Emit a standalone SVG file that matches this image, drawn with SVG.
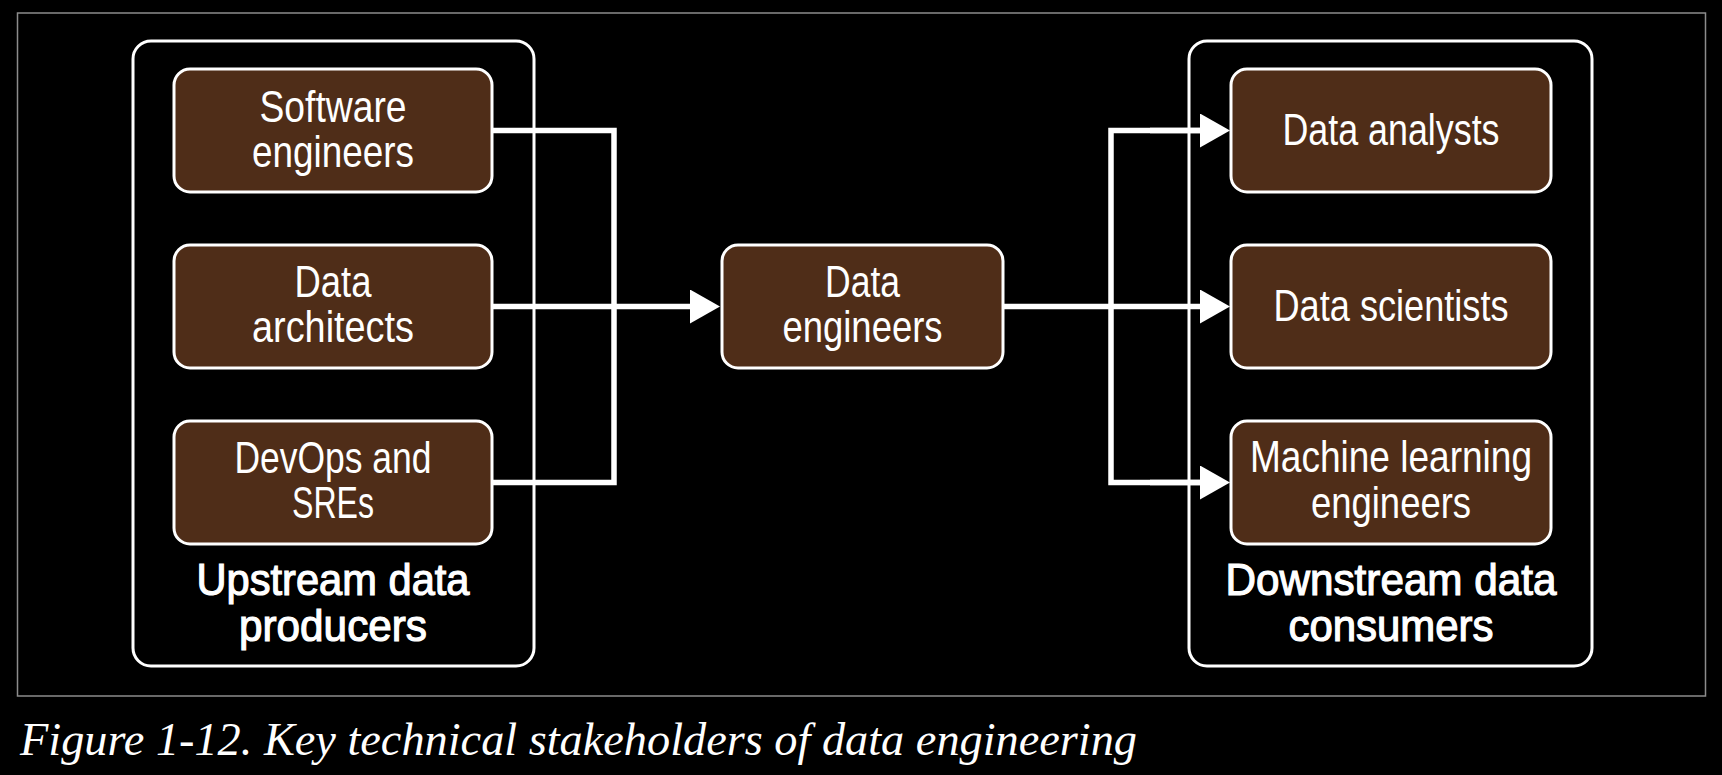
<svg xmlns="http://www.w3.org/2000/svg" width="1722" height="775" viewBox="0 0 1722 775">
  <style>
    .box { fill: #4f2d18; stroke: #ffffff; stroke-width: 3; }
    .group { fill: none; stroke: #ffffff; stroke-width: 3; }
    .lbl { font-family: "Liberation Sans Narrow", "Liberation Sans", "DejaVu Sans Condensed", sans-serif; font-size: 44px; fill: #ffffff; text-anchor: middle; }
    .ttl { font-family: "Liberation Sans Narrow", "Liberation Sans", "DejaVu Sans Condensed", sans-serif; font-size: 45px; fill: #ffffff; stroke: #ffffff; stroke-width: 1.2; text-anchor: middle; }
    .conn { fill: none; stroke: #ffffff; stroke-width: 5.5; stroke-linejoin: miter; }
    .cap { font-family: "Liberation Serif", "DejaVu Serif", serif; font-style: italic; font-size: 46px; fill: #ffffff; }
  </style>
  <defs>
    <marker id="arrow" viewBox="0 0 30 34" refX="0" refY="17" markerWidth="30" markerHeight="34" markerUnits="userSpaceOnUse" orient="auto">
      <path d="M0,0 L30,17 L0,34 Z" fill="#ffffff"/>
    </marker>
  </defs>
  <rect x="0" y="0" width="1722" height="775" fill="#000000"/>
  <rect x="17.5" y="13" width="1688" height="683" fill="none" stroke="#8c8c8c" stroke-width="1.5"/>

  <g id="upstream-group">
    <rect class="group" x="133" y="41" width="401" height="625" rx="18"/>
    <text class="ttl" x="333" y="595" textLength="273" lengthAdjust="spacingAndGlyphs">Upstream data</text>
    <text class="ttl" x="333" y="641" textLength="188" lengthAdjust="spacingAndGlyphs">producers</text>
  </g>
  <g id="downstream-group">
    <rect class="group" x="1189" y="41" width="403" height="625" rx="18"/>
    <text class="ttl" x="1391" y="595" textLength="331" lengthAdjust="spacingAndGlyphs">Downstream data</text>
    <text class="ttl" x="1391" y="641" textLength="205" lengthAdjust="spacingAndGlyphs">consumers</text>
  </g>

  <g id="connectors">
    <path class="conn" d="M493,130.5 H614 V482.5 H493"/>
    <path class="conn" d="M493,306.5 H690" marker-end="url(#arrow)"/>
    <path class="conn" d="M1003,306.5 H1200" marker-end="url(#arrow)"/>
    <path class="conn" d="M1200,130.5 H1111 V482.5 H1200"/>
    <path class="conn" d="M1150,130.5 H1200" marker-end="url(#arrow)"/>
    <path class="conn" d="M1150,482.5 H1200" marker-end="url(#arrow)"/>
  </g>

  <g id="software-engineers">
    <rect class="box" x="174" y="69" width="318" height="123" rx="16"/>
    <text class="lbl" x="333" y="122" textLength="147" lengthAdjust="spacingAndGlyphs">Software</text>
    <text class="lbl" x="333" y="167" textLength="162" lengthAdjust="spacingAndGlyphs">engineers</text>
  </g>
  <g id="data-architects">
    <rect class="box" x="174" y="245" width="318" height="123" rx="16"/>
    <text class="lbl" x="333" y="297" textLength="77" lengthAdjust="spacingAndGlyphs">Data</text>
    <text class="lbl" x="333" y="342" textLength="162" lengthAdjust="spacingAndGlyphs">architects</text>
  </g>
  <g id="devops-sres">
    <rect class="box" x="174" y="421" width="318" height="123" rx="16"/>
    <text class="lbl" x="333" y="473" textLength="197" lengthAdjust="spacingAndGlyphs">DevOps and</text>
    <text class="lbl" x="333" y="518" textLength="82" lengthAdjust="spacingAndGlyphs">SREs</text>
  </g>
  <g id="data-engineers">
    <rect class="box" x="722" y="245" width="281" height="123" rx="16"/>
    <text class="lbl" x="862.5" y="297" textLength="75" lengthAdjust="spacingAndGlyphs">Data</text>
    <text class="lbl" x="862.5" y="342" textLength="160" lengthAdjust="spacingAndGlyphs">engineers</text>
  </g>
  <g id="data-analysts">
    <rect class="box" x="1231" y="69" width="320" height="123" rx="16"/>
    <text class="lbl" x="1391" y="145" textLength="217" lengthAdjust="spacingAndGlyphs">Data analysts</text>
  </g>
  <g id="data-scientists">
    <rect class="box" x="1231" y="245" width="320" height="123" rx="16"/>
    <text class="lbl" x="1391" y="321" textLength="235" lengthAdjust="spacingAndGlyphs">Data scientists</text>
  </g>
  <g id="ml-engineers">
    <rect class="box" x="1231" y="421" width="320" height="123" rx="16"/>
    <text class="lbl" x="1391" y="472" textLength="282" lengthAdjust="spacingAndGlyphs">Machine learning</text>
    <text class="lbl" x="1391" y="518" textLength="160" lengthAdjust="spacingAndGlyphs">engineers</text>
  </g>

  <text class="cap" x="20" y="755" textLength="1117" lengthAdjust="spacingAndGlyphs">Figure 1-12. Key technical stakeholders of data engineering</text>
</svg>
